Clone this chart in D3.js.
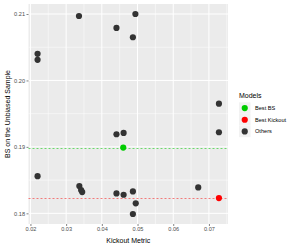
<!DOCTYPE html>
<html>
<head>
<meta charset="utf-8">
<script src="https://cdn.jsdelivr.net/npm/d3@7"></script>
<style>
  body { margin: 0; background: #fff; }
  text { font-family: "Liberation Sans", Arial, sans-serif; }
</style>
</head>
<body>
<div id="chart"></div>
<script>
// data
const kickout = [0.0220, 0.0220, 0.0336, 0.0441, 0.0494, 0.0487, 0.0728, 0.0220, 0.0337, 0.0342, 0.0345,
                 0.0441, 0.0461, 0.0728, 0.0460, 0.0441, 0.0461, 0.0487, 0.0495, 0.0487, 0.0670, 0.0728];
const bs = [0.2040, 0.2031, 0.2097, 0.2079, 0.2100, 0.2065, 0.1965, 0.1856, 0.1841, 0.1835, 0.1832,
            0.1919, 0.1921, 0.1922, 0.1899, 0.1830, 0.1828, 0.1833, 0.1815, 0.1799, 0.1839, 0.1823];
const model = ["Others", "Others", "Others", "Others", "Others", "Others", "Others", "Others", "Others", "Others", "Others",
               "Others", "Others", "Others", "Best BS", "Others", "Others", "Others", "Others", "Others", "Others", "Best Kickout"];
const xTicks = [0.02, 0.03, 0.04, 0.05, 0.06, 0.07];
const yTicks = [0.18, 0.19, 0.20, 0.21];
const legendKeys = ["Best BS", "Best Kickout", "Others"];
const colours = ["#00CC00", "#FF0000", "#333333"];

const points = kickout.map((k, i) => ({ x: k, y: bs[i], m: model[i] }));

const width = 297, height = 248;
const panel = { left: 28.5, right: 228, top: 4, bottom: 224 };

const svg = d3.select("#chart").append("svg")
  .attr("width", width).attr("height", height);

// ggplot-style 5% expansion
function expand(ext) {
  const pad = (ext[1] - ext[0]) * 0.05;
  return [ext[0] - pad, ext[1] + pad];
}
const x = d3.scaleLinear().domain(expand(d3.extent(kickout))).range([panel.left, panel.right]);
const y = d3.scaleLinear().domain(expand(d3.extent(bs))).range([panel.bottom, panel.top]);
const colour = d3.scaleOrdinal().domain(legendKeys).range(colours);

// panel background
svg.append("rect")
  .attr("x", panel.left).attr("y", panel.top)
  .attr("width", panel.right - panel.left).attr("height", panel.bottom - panel.top)
  .attr("fill", "#EBEBEB");

// minor grid
const grid = svg.append("g");
const xMinor = xTicks.map(t => t + 0.005).concat([0.015]).filter(t => x(t) > panel.left && x(t) < panel.right);
const yMinor = yTicks.map(t => t + 0.005).concat([0.175]).filter(t => y(t) > panel.top && y(t) < panel.bottom);
grid.selectAll(".xm").data(xMinor).join("line")
  .attr("x1", d => x(d)).attr("x2", d => x(d))
  .attr("y1", panel.top).attr("y2", panel.bottom)
  .attr("stroke", "#fff").attr("stroke-width", 0.5);
grid.selectAll(".ym").data(yMinor).join("line")
  .attr("y1", d => y(d)).attr("y2", d => y(d))
  .attr("x1", panel.left).attr("x2", panel.right)
  .attr("stroke", "#fff").attr("stroke-width", 0.5);

// major grid
grid.selectAll(".xM").data(xTicks).join("line")
  .attr("x1", d => x(d)).attr("x2", d => x(d))
  .attr("y1", panel.top).attr("y2", panel.bottom)
  .attr("stroke", "#fff").attr("stroke-width", 1);
grid.selectAll(".yM").data(yTicks).join("line")
  .attr("y1", d => y(d)).attr("y2", d => y(d))
  .attr("x1", panel.left).attr("x2", panel.right)
  .attr("stroke", "#fff").attr("stroke-width", 1);

// reference lines for the best models
const bestBS = points.find(p => p.m === "Best BS");
const bestKO = points.find(p => p.m === "Best Kickout");
[bestBS, bestKO].forEach(p => {
  svg.append("line")
    .attr("x1", panel.left).attr("x2", panel.right)
    .attr("y1", Math.round(y(p.y)) + 0.5).attr("y2", Math.round(y(p.y)) + 0.5)
    .attr("stroke", p.m === "Best BS" ? "#5CD65C" : "#F26D6D")
    .attr("stroke-width", 0.9)
    .attr("stroke-dasharray", "2,2");
});

// points
svg.append("g").selectAll("circle")
  .data(points)
  .join("circle")
  .attr("cx", d => x(d.x))
  .attr("cy", d => y(d.y))
  .attr("r", 3.1)
  .attr("fill", d => colour(d.m));

// axes
const xAxis = svg.append("g")
  .attr("transform", `translate(0,${panel.bottom})`)
  .call(d3.axisBottom(x).tickValues(xTicks).tickFormat(d3.format(".2f")).tickSize(2).tickPadding(1.5));
const yAxis = svg.append("g")
  .attr("transform", `translate(${panel.left},0)`)
  .call(d3.axisLeft(y).tickValues(yTicks).tickFormat(d3.format(".2f")).tickSize(2).tickPadding(1.5));
[xAxis, yAxis].forEach(a => {
  a.select(".domain").remove();
  a.selectAll(".tick line").attr("stroke", "#333333").attr("stroke-width", 0.6);
  a.selectAll(".tick text").attr("fill", "#4D4D4D").style("font-size", "5.6px")
    .style("font-family", "'Liberation Sans', Arial, sans-serif");
});

// axis titles
svg.append("text")
  .attr("x", (panel.left + panel.right) / 2).attr("y", 243)
  .attr("text-anchor", "middle")
  .style("font-size", "7px").attr("fill", "#000")
  .text("Kickout Metric");
svg.append("text")
  .attr("transform", `translate(9.5,${(panel.top + panel.bottom) / 2}) rotate(-90)`)
  .attr("text-anchor", "middle")
  .style("font-size", "7px").attr("fill", "#000")
  .text("BS on the Unbiased Sample");

// legend
const legend = svg.append("g").attr("transform", "translate(239,0)");
legend.append("text")
  .attr("x", 0).attr("y", 97.5)
  .style("font-size", "7px").attr("fill", "#000")
  .text("Models");
const keys = legend.selectAll(".key").data(legendKeys).join("g")
  .attr("transform", (d, i) => `translate(0,${102.3 + i * 11.7})`);
keys.append("rect")
  .attr("width", 11.5).attr("height", 11.5)
  .attr("fill", "#F2F2F2");
keys.append("circle")
  .attr("cx", 5.75).attr("cy", 5.75).attr("r", 3.1)
  .attr("fill", d => colour(d));
keys.append("text")
  .attr("x", 16).attr("y", 7.8)
  .style("font-size", "5.6px").attr("fill", "#000")
  .text(d => d);
</script>
</body>
</html>
